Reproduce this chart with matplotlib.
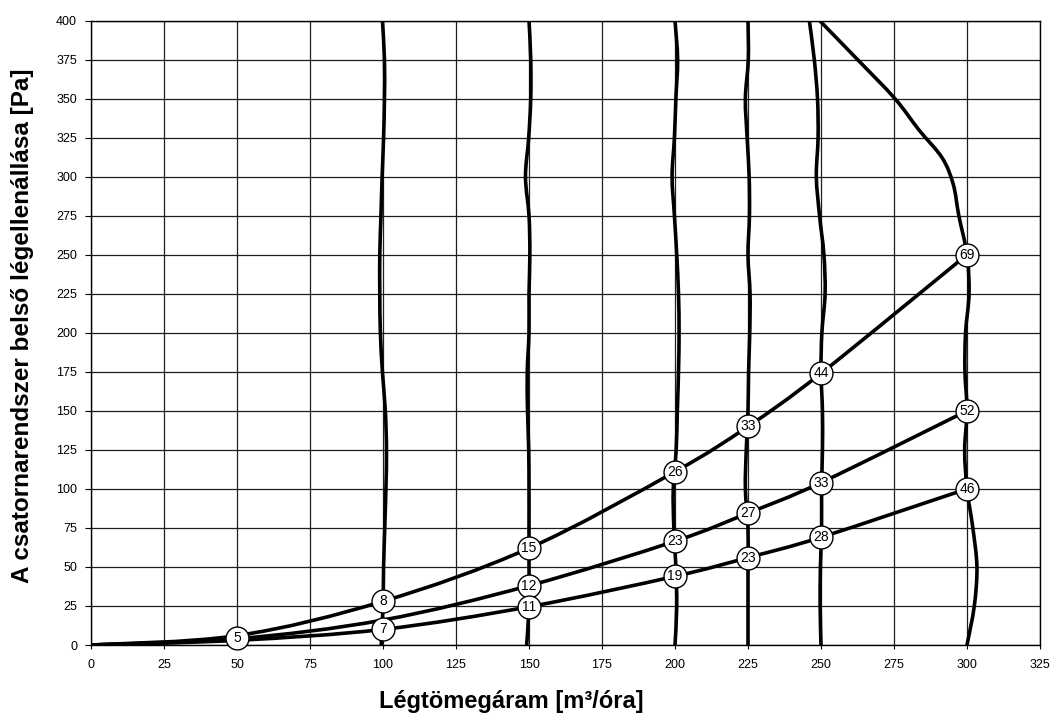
import numpy as np
import matplotlib
matplotlib.use("Agg")
import matplotlib.pyplot as plt
from matplotlib.path import Path
from matplotlib.patches import PathPatch

plt.rcParams['font.family'] = ['Liberation Sans', 'DejaVu Sans']

# ---- data -------------------------------------------------------------
x_points = [0, 50, 100, 150, 200, 225, 250, 300]

high_y = [0, 6, 28, 62, 111, 140, 174, 250]
high_labels = [None, None, '8', '15', '26', '33', '44', '69']

mid_y = [0, 4, 16, 38, 66.5, 84.5, 104, 150]
mid_labels = [None, None, None, '12', '23', '27', '33', '52']

low_y = [0, 3, 10, 24.5, 44, 56, 69, 100]
low_labels = [None, None, '7', '11', '19', '23', '28', '46']

shared_point = (50, 4.5)
shared_label = '5'

iso_y = [0, 25, 50, 75, 100, 125, 150, 175, 200, 225, 250, 275, 300, 325, 350, 375, 400]
iso_100 = [99.4, 100, 100.2, 100.6, 101, 101.2, 100.8, 99.8, 99.1, 98.9, 98.9, 99.3, 99.7, 100.2, 100.5, 100.5, 99.8]
iso_150 = [149.2, 150, 150, 150, 150, 149.9, 149.5, 149.4, 150, 150, 150.3, 150, 148.8, 149.9, 150.6, 150.6, 150]
iso_200 = [200, 200.6, 200.3, 199.6, 199.4, 200.4, 200.8, 201.2, 201.4, 201.2, 200.6, 199.8, 199.0, 199.8, 200.3, 200.9, 200]
iso_225 = [225, 225, 225, 225, 224.1, 224.4, 225, 225.2, 225.6, 225.7, 225, 225.5, 225.4, 224.7, 224.1, 225.1, 225]
iso_250 = [250, 249.7, 249.8, 250.2, 250.2, 250.5, 250.5, 250, 250.3, 251.4, 251.0, 249.5, 248.4, 249.0, 248.8, 247.7, 246]

iso300_y = [0, 25, 50, 75, 100, 125, 150, 175, 200, 225, 250, 275, 295, 312, 330, 350, 375, 400]
iso300_x = [300, 302.5, 303.4, 302, 300, 299.2, 300, 299.3, 299.5, 300.7, 300, 297.2, 295.3, 291.5, 283.5, 275.3, 262.5, 249.5]

x_ticks = list(range(0, 326, 25))
y_ticks = list(range(0, 401, 25))


# ---- helpers ----------------------------------------------------------
def smooth_path(xs, ys):
    pts = np.column_stack([xs, ys]).astype(float)
    n = len(pts)
    verts = [pts[0]]
    codes = [Path.MOVETO]
    for i in range(n - 1):
        p0 = pts[i - 1] if i > 0 else pts[i]
        p1 = pts[i]
        p2 = pts[i + 1]
        p3 = pts[i + 2] if i + 2 < n else pts[i + 1]
        c1 = p1 + (p2 - p0) / 6.0
        c2 = p2 - (p3 - p1) / 6.0
        verts += [c1, c2, p2]
        codes += [Path.CURVE4] * 3
    return Path(verts, codes)


def draw_smooth(ax, xs, ys, lw=2.6):
    patch = PathPatch(smooth_path(xs, ys), facecolor='none', edgecolor='black',
                      lw=lw, capstyle='round', joinstyle='round',
                      transform=ax.transData, zorder=3)
    ax.add_patch(patch)


def draw_label(ax, x, y, txt):
    ax.plot([x], [y], marker='o', ms=16.5, mfc='white', mec='black', mew=1.0,
            zorder=5, clip_on=False)
    ax.text(x, y, txt, ha='center', va='center', fontsize=10, zorder=6)


# ---- figure -----------------------------------------------------------
fig = plt.figure(figsize=(10.51, 7.13), dpi=100)
ax = fig.add_axes([91 / 1051, 1 - 645 / 713, (1040 - 91) / 1051, (645 - 20.5) / 713])

ax.set_xlim(0, 325)
ax.set_ylim(0, 400)
ax.set_xticks(x_ticks)
ax.set_yticks(y_ticks)
ax.tick_params(axis='x', length=3, pad=7, labelsize=9, colors='black')
ax.tick_params(axis='y', length=4, pad=6, labelsize=9, colors='black')
ax.grid(True, color='#1e1e1e', lw=0.9)
ax.set_axisbelow(True)
for s in ax.spines.values():
    s.set_color('black')
    s.set_linewidth(1.0)

# iso lines
for xs in [iso_100, iso_150, iso_200, iso_225, iso_250]:
    draw_smooth(ax, xs, iso_y)
draw_smooth(ax, iso300_x, iso300_y)

# characteristic curves
for ys in [high_y, mid_y, low_y]:
    draw_smooth(ax, x_points, ys)

# labelled circles
for ys, labels in [(high_y, high_labels), (mid_y, mid_labels), (low_y, low_labels)]:
    for x, y, t in zip(x_points, ys, labels):
        if t is not None:
            draw_label(ax, x, y, t)
draw_label(ax, shared_point[0], shared_point[1], shared_label)

fig.text(511 / 1051, 1 - 708 / 713, 'Légtömegáram [m³/óra]', ha='center',
         va='baseline', fontsize=17, fontweight='bold')
fig.text(23 / 1051, 1 - 326 / 713, 'A csatornarendszer belső légellenállása [Pa]',
         rotation=90, ha='center', va='center', fontsize=17.5, fontweight='bold')

fig.savefig('out.png', dpi=100)
